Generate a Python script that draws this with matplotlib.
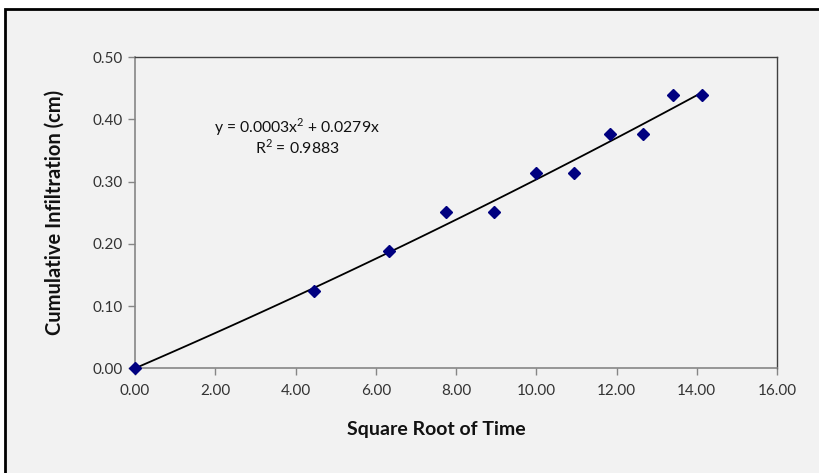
"""
Cumulative infiltration vs square root of time, with a 2nd order trendline
"""
import numpy as np
import matplotlib
matplotlib.use("Agg")
import matplotlib.pyplot as plt
from matplotlib.patches import Rectangle
from matplotlib.ticker import FormatStrFormatter


sqrt_time=[0.00, 4.47, 6.32, 7.75, 8.94, 10.00, 10.95, 11.83, 12.65, 13.42, 14.14]
infiltration=[0.000, 0.125, 0.189, 0.251, 0.251, 0.314, 0.314, 0.376, 0.376, 0.439, 0.439]
x_ticks=[0, 2, 4, 6, 8, 10, 12, 14, 16]
y_ticks=[0.0, 0.1, 0.2, 0.3, 0.4, 0.5]
eq_text="y = 0.0003x$^2$ + 0.0279x"
r2_text="R$^2$ = 0.9883"
x_label="Square Root of Time"
y_label="Cumulative Infiltration (cm)"

W=819
H=473
BG="#f2f2f2"


"""
Trendline polinomiale di ordine 2 con intercetta zero (come Excel)
"""
def fit_trend(x, y):
	x=np.asarray(x)
	y=np.asarray(y)
	A=np.column_stack([x**2, x])
	coef=np.linalg.lstsq(A, y, rcond=None)[0]
	return coef


def main():
	plt.rcParams['font.family']=['Lato', 'DejaVu Sans']
	plt.rcParams['mathtext.fontset']='custom'
	plt.rcParams['mathtext.rm']='Lato'

	fig=plt.figure(figsize=(W/100, H/100), dpi=100, facecolor="white")

	# cornice del grafico (esce fuori a destra e in basso)
	frame=Rectangle((5/W, -0.05), 1.1, (H-9)/H+0.05, transform=fig.transFigure,
		facecolor=BG, edgecolor="black", linewidth=2, zorder=-10)
	fig.patches.append(frame)

	ax=fig.add_axes([135/W, (H-368.3)/H, 642/W, 311/H])
	ax.set_zorder(5)
	ax.set_facecolor(BG)

	a, b=fit_trend(sqrt_time, infiltration)
	xs=np.linspace(0, max(sqrt_time), 100)
	ax.plot(xs, a*xs**2+b*xs, color="black", linewidth=1.3, zorder=2)
	ax.plot(sqrt_time, infiltration, linestyle="none", marker="D", markersize=6,
		color="#000080", zorder=3, clip_on=False)

	ax.set_xlim(0, 16)
	ax.set_ylim(0, 0.5)
	ax.set_xticks(x_ticks)
	ax.set_yticks(y_ticks)
	ax.xaxis.set_major_formatter(FormatStrFormatter("%.2f"))
	ax.yaxis.set_major_formatter(FormatStrFormatter("%.2f"))
	ax.tick_params(axis="both", direction="out", length=5, width=1, color="#868686",
		labelsize=11, labelcolor="#333333")
	ax.tick_params(axis="x", pad=6)
	ax.tick_params(axis="y", pad=4)

	for s in ["left", "bottom"]:
		ax.spines[s].set_color("#868686")
		ax.spines[s].set_linewidth(1.2)
	for s in ["top", "right"]:
		ax.spines[s].set_color("#404040")
		ax.spines[s].set_linewidth(1.0)

	# titolo asse x spostato a sinistra come nell'originale
	fig.text(436.5/W, 1-429/H, x_label, ha="center", va="center", fontsize=14,
		fontweight="bold", color="#111111", zorder=20)
	ax.set_ylabel(y_label, fontsize=14.5, fontweight="bold", color="#111111", labelpad=20)

	fig.text(297/W, 1-127/H, eq_text, ha="center", va="center", fontsize=11.3, color="#111111", zorder=20)
	fig.text(297/W, 1-147/H, r2_text, ha="center", va="center", fontsize=11.3, color="#111111", zorder=20)

	fig.savefig("out.png", dpi=100, facecolor=fig.get_facecolor())


if __name__ == "__main__":
	main()
